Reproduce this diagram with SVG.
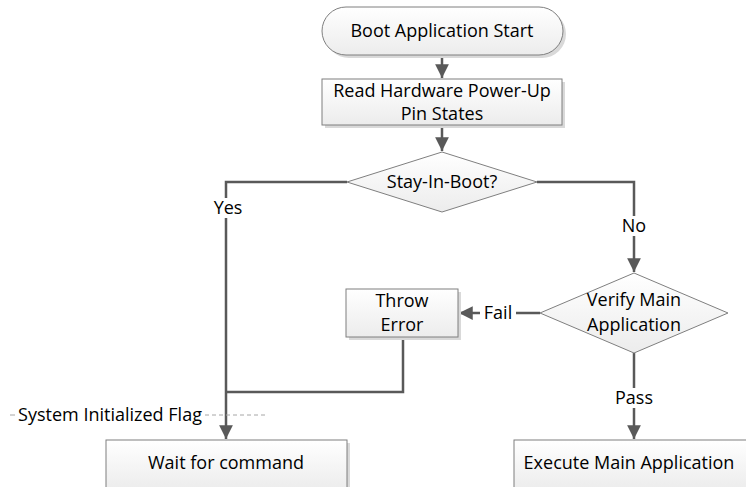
<svg xmlns="http://www.w3.org/2000/svg" width="746" height="487" viewBox="0 0 746 487">
  <style>
    .box { fill: url(#boxFill); stroke: #7f7f7f; stroke-width: 1; }
    .shadow { fill: #d9d9d9; }
    .lbl { font-family: "Open Sans", "Liberation Sans", Arial, sans-serif; font-size: 18px; fill: #000; text-anchor: middle; dominant-baseline: central; }
    .flow { fill: none; stroke: #595959; stroke-width: 2.5; }
    .tag { fill: #fff; }
  </style>
  <defs>
    <linearGradient id="boxFill" x1="0" y1="0" x2="0" y2="1">
      <stop offset="0" stop-color="#ffffff"/>
      <stop offset="1" stop-color="#ececec"/>
    </linearGradient>
    <marker id="arrow" viewBox="0 0 10 10" refX="10" refY="5" markerWidth="5.5" markerHeight="5.5" orient="auto" markerUnits="strokeWidth">
      <path d="M0,0 L10,5 L0,10 z" fill="#595959"/>
    </marker>
  </defs>

  <!-- connectors -->
  <g id="connectors">
    <path class="flow" d="M442,55 V78" marker-end="url(#arrow)"/>
    <path class="flow" d="M442,125 V151" marker-end="url(#arrow)"/>
    <path class="flow" d="M347,182 H226 V439" marker-end="url(#arrow)"/>
    <path class="flow" d="M537,182 H634 V272" marker-end="url(#arrow)"/>
    <path class="flow" d="M540,313 H459" marker-end="url(#arrow)"/>
    <path class="flow" d="M403,337 V392 H226"/>
    <path class="flow" d="M634,353 V439" marker-end="url(#arrow)"/>
    <!-- flag callout -->
    <line x1="10" y1="415" x2="15" y2="415" stroke="#a6a6a6" stroke-width="1"/>
    <line x1="205" y1="415" x2="265" y2="415" stroke="#a6a6a6" stroke-width="1" stroke-dasharray="4,3"/>
    <!-- edge labels -->
    <rect class="tag" x="209" y="198" width="38" height="20"/>
    <text class="lbl" x="228" y="207">Yes</text>
    <rect class="tag" x="620" y="216" width="28" height="20"/>
    <text class="lbl" x="634" y="225">No</text>
    <rect class="tag" x="480" y="303" width="36" height="20"/>
    <text class="lbl" x="498" y="312">Fail</text>
    <rect class="tag" x="613" y="388" width="42" height="20"/>
    <text class="lbl" x="634" y="397">Pass</text>
    <text class="lbl" x="110" y="414">System Initialized Flag</text>
  </g>

  <g id="start">
    <rect class="shadow" x="325" y="10" width="241" height="48" rx="24"/>
    <rect class="box" x="322" y="7" width="241" height="48" rx="24"/>
    <text class="lbl" x="442" y="30">Boot Application Start</text>
  </g>

  <g id="read-pins">
    <rect class="shadow" x="325" y="82" width="240" height="46"/>
    <rect class="box" x="322" y="79" width="240" height="46"/>
    <text class="lbl" x="442" y="90">Read Hardware Power-Up</text>
    <text class="lbl" x="442" y="113">Pin States</text>
  </g>

  <g id="stay-in-boot">
    <polygon class="box" points="442,152 537,182 442,212 347,182"/>
    <text class="lbl" x="442" y="181">Stay-In-Boot?</text>
  </g>

  <g id="verify">
    <polygon class="box" points="634,273 728,313 634,353 540,313"/>
    <text class="lbl" x="634" y="299">Verify Main</text>
    <text class="lbl" x="634" y="324">Application</text>
  </g>

  <g id="throw-error">
    <rect class="shadow" x="349" y="292" width="112" height="48"/>
    <rect class="box" x="346" y="289" width="112" height="48"/>
    <text class="lbl" x="402" y="300">Throw</text>
    <text class="lbl" x="402" y="324">Error</text>
  </g>

  <g id="wait">
    <rect class="shadow" x="109" y="443" width="241" height="50"/>
    <rect class="box" x="106" y="440" width="241" height="50"/>
    <text class="lbl" x="226" y="462">Wait for command</text>
  </g>

  <g id="execute">
    <rect class="shadow" x="517" y="443" width="241" height="50"/>
    <rect class="box" x="514" y="440" width="241" height="50"/>
    <text class="lbl" x="629" y="462">Execute Main Application</text>
  </g>
</svg>
